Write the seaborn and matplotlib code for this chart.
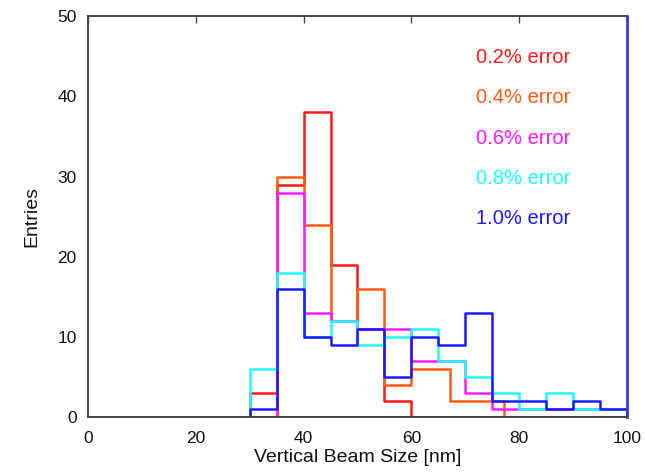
import matplotlib
matplotlib.use("Agg")
import matplotlib.pyplot as plt
import seaborn as sns
import pandas as pd

# ---- data ----
red_edges = [30, 35, 40, 45, 50, 55, 60]
red_counts = [3, 29, 38, 19, 11, 2]

orange_edges = [35, 40, 45, 50, 55, 60, 67.2, 77.2]
orange_counts = [30, 24, 12, 16, 4, 6, 2]

magenta_edges = [35, 40, 45, 50, 55, 60, 65, 70, 75, 80, 85, 90, 95, 100]
magenta_counts = [28, 13, 12, 11, 11, 7, 7, 3, 1, 1, 1, 1, 1]

cyan_edges = [30, 35, 40, 45, 50, 55, 60, 65, 70, 75, 80, 85, 90, 95, 100]
cyan_counts = [6, 18, 10, 12, 9, 10, 11, 7, 5, 3, 1, 3, 1, 1]

blue_edges = [30, 35, 40, 45, 50, 55, 60, 65, 70, 75, 80, 85, 90, 95, 100]
blue_counts = [1, 16, 10, 9, 11, 5, 10, 9, 13, 2, 2, 1, 2, 1]

labels = ["0.2% error", "0.4% error", "0.6% error", "0.8% error", "1.0% error"]
colors = ["#ff1a1a", "#ff5a14", "#ff1aff", "#1affff", "#1a1aff"]
label_y = [44.8, 39.8, 34.8, 29.8, 24.8]

xticks = [0, 20, 40, 60, 80, 100]
yticks = [0, 10, 20, 30, 40, 50]

sns.set_theme(style="white")
plt.rcParams["font.family"] = ["Liberation Sans", "DejaVu Sans"]

fig = plt.figure(figsize=(6.45, 4.76), dpi=100)
ax = fig.add_axes([0.1364, 0.124, 0.8356, 0.842])

series = [
    (red_edges, red_counts),
    (orange_edges, orange_counts),
    (magenta_edges, magenta_counts),
    (cyan_edges, cyan_counts),
    (blue_edges, blue_counts),
]

for (edges, counts), col in zip(series, colors):
    e = [float(v) for v in edges]
    centers = [(a + b) / 2 for a, b in zip(e[:-1], e[1:])]
    df = pd.DataFrame({"x": centers, "w": counts})
    n_before = len(ax.collections)
    sns.histplot(data=df, x="x", weights="w", bins=e, element="step",
                 fill=True, color=col, ax=ax)
    for coll in ax.collections[n_before:]:
        coll.set_facecolor("none")
        coll.set_edgecolor(col)
        coll.set_linewidth(1.8)

for lab, col, yy in zip(labels, colors, label_y):
    ax.text(72, yy, lab, color=col, fontsize=14.5, va="center", ha="left")

ax.set_xlim(0, 100)
ax.set_ylim(0, 50)
ax.set_xticks(xticks)
ax.set_yticks(yticks)
ax.set_xlabel("Vertical Beam Size [nm]", fontsize=14, color="#111111", labelpad=2)
ax.set_ylabel("Entries", fontsize=14, color="#111111", labelpad=12)
ax.tick_params(axis="both", direction="in", length=5, width=1, color="#444444",
               labelsize=12.5, labelcolor="#111111", top=True, right=False)
ax.tick_params(axis="x", pad=10)
ax.tick_params(axis="y", pad=8)

for s in ["left", "bottom", "top"]:
    ax.spines[s].set_color("#444444")
    ax.spines[s].set_linewidth(1.4)
ax.spines["right"].set_color("#3a3ad0")
ax.spines["right"].set_linewidth(2)

fig.savefig("out.png", dpi=100)
